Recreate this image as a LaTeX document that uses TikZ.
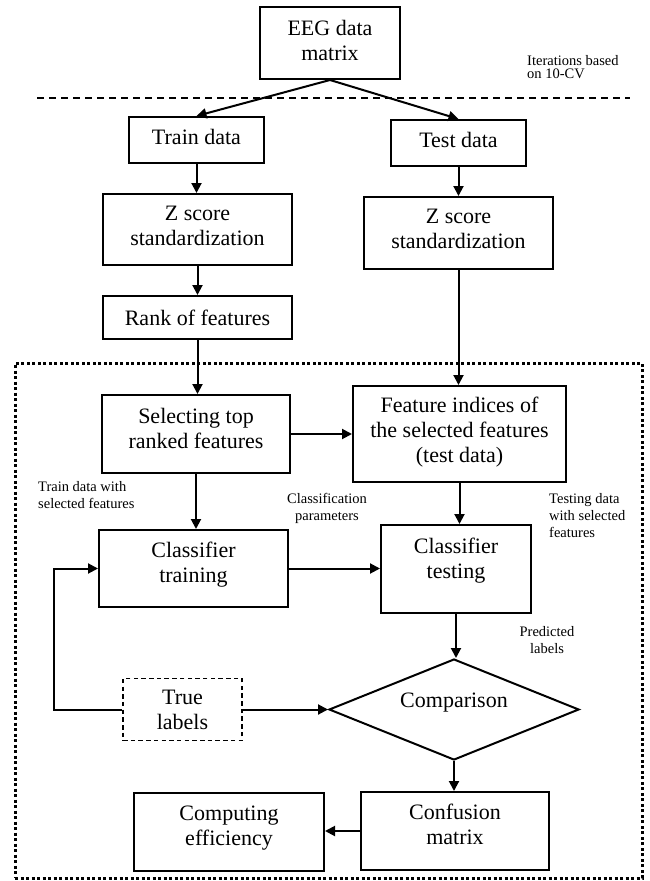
\documentclass[tikz,border=0pt]{standalone}
\usepackage{fontspec}
\setmainfont{Liberation Serif}
\usetikzlibrary{shapes.geometric,arrows.meta}
\begin{document}
\begin{tikzpicture}[x=1pt,y=-1pt,
  box/.style={draw, line width=2pt, align=center, inner sep=0pt, font=\fontsize{22}{25}\selectfont},
  txt/.style={align=center, inner sep=0pt, font=\fontsize{22}{25}\selectfont},
  small/.style={inner sep=0pt, font=\fontsize{14.5}{17}\selectfont},
  arr/.style={line width=2pt, -{Triangle[length=10pt,width=10pt]}},
  ln/.style={line width=2pt}]
\useasboundingbox (0,0) rectangle (650,881);
% top part
\node[box, minimum width=140pt, minimum height=72pt, text depth=6pt] (eeg) at (330,43) {EEG data\\matrix};
\node[small, align=left, anchor=west, font=\fontsize{14.5}{13.5}\selectfont] (iter) at (527,67) {Iterations based\\on 10-CV};
\coordinate (dl) at (37,98);
\coordinate (dr) at (630,98);
\draw[line width=2pt, dash pattern=on 7pt off 5pt] (dl) -- (dr);
\node[box, minimum width=135pt, minimum height=46pt, text depth=6pt] (train) at (196.5,140) {Train data};
\node[box, minimum width=135pt, minimum height=46pt, text depth=6pt] (test) at (458.5,143) {Test data};
\draw[arr] (eeg.south) -- (train.north);
\draw[arr] (eeg.south) -- (test.north);
\node[box, minimum width=189pt, minimum height=71pt, text depth=8pt] (zl) at (197.5,229.5) {Z score\\standardization};
\node[box, minimum width=189pt, minimum height=72pt, text depth=8pt] (zr) at (458.5,233) {Z score\\standardization};
\node[box, minimum width=189pt, minimum height=43pt] (rank) at (197.5,317.5) {Rank of features};
\draw[arr] (train.south) -- (train.south |- zl.north);
\draw[arr] (zl.south) -- (zl.south |- rank.north);
\draw[arr] (test.south) -- (test.south |- zr.north);
% dotted frame
\node[draw, line width=3pt, dash pattern=on 3pt off 2.5pt, minimum width=627pt, minimum height=515pt, inner sep=0pt] (frame) at (328.5,620.5) {};
\node[box, minimum width=188pt, minimum height=78pt, text depth=11pt] (sel) at (196,434) {Selecting top\\ranked features};
\node[box, minimum width=213pt, minimum height=96pt, text depth=8pt] (fi) at (459.5,434) {Feature indices of\\the selected features\\(test data)};
\draw[arr] (rank.south) -- (rank.south |- sel.north);
\draw[arr] (zr.south) -- (zr.south |- fi.north);
\draw[arr] (sel.east) -- (fi.west);
\node[box, minimum width=189pt, minimum height=77pt, text depth=12pt] (ctrain) at (193.5,568.5) {Classifier\\training};
\node[box, minimum width=150pt, minimum height=88pt, text depth=22pt] (ctest) at (456,569) {Classifier\\testing};
\draw[arr] (sel.south) -- (sel.south |- ctrain.north);
\draw[arr] (fi.south) -- (fi.south |- ctest.north);
\draw[arr] (ctrain.east) -- (ctest.west |- ctrain.east);
\node[small, align=left, anchor=west] (lbl1) at (38,495.5) {Train data with\\selected features};
\node[small, align=center] (lbl2) at (327,508.5) {Classification\\parameters};
\node[small, align=left, anchor=west] (lbl3) at (549,516) {Testing data\\with selected\\features};
\node[small, align=center] (lbl4) at (547,640) {Predicted\\labels};
% comparison
\node[diamond, draw, line width=2pt, minimum width=250pt, minimum height=101pt, inner sep=0pt] (cmp) at (454,709.5) {};
\node[txt] (cmpt) at (454,703) {Comparison};
\draw[arr] (ctest.south) -- (ctest.south |- cmp.north);
\node[draw, line width=1.3pt, dash pattern=on 4.5pt off 3.2pt, align=center, inner sep=0pt, font=\fontsize{22}{25}\selectfont, minimum width=119pt, minimum height=62pt] (tl) at (182.5,709.5) {True\\labels};
\draw[arr] (tl.east) -- (cmp.west);
\coordinate (fbl) at (54,709.5);
\coordinate (fbt) at (54,568.5);
\draw[arr] (tl.west) -- (fbl) -- (fbt) -- (ctrain.west);
\node[box, minimum width=188pt, minimum height=78pt, text depth=13pt] (conf) at (455,831) {Confusion\\matrix};
\node[box, minimum width=190pt, minimum height=78pt, text depth=13pt] (comp) at (229,832) {Computing\\efficiency};
\draw[arr] (cmp.south) -- (cmp.south |- conf.north);
\draw[arr] (conf.west) -- (comp.east |- conf.west);
\end{tikzpicture}
\end{document}
